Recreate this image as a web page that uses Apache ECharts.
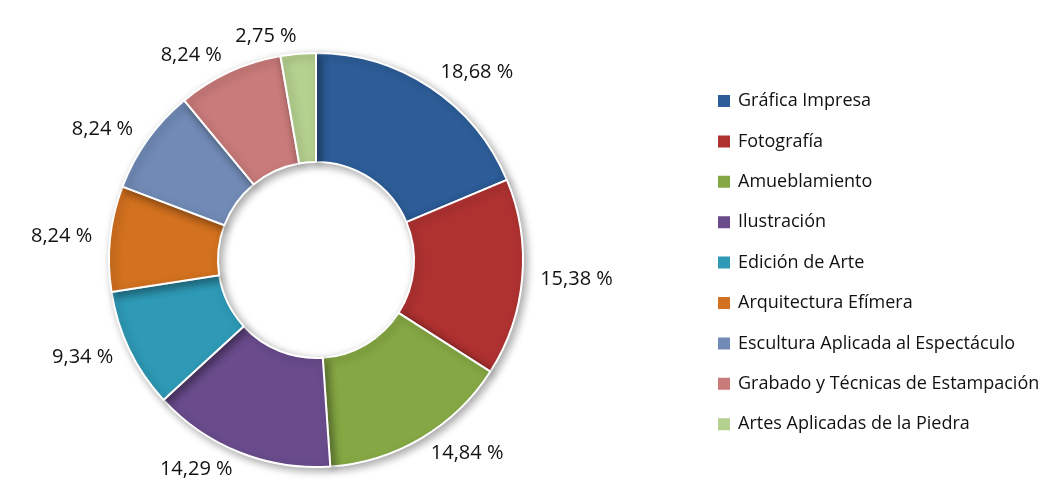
<!DOCTYPE html>
<html>
<head>
<meta charset="utf-8">
<script src="https://cdn.jsdelivr.net/npm/echarts@6/dist/echarts.min.js"></script>
<style>
  html, body { margin: 0; padding: 0; background: #fff; }
  #main { width: 1049px; height: 484px; }
</style>
</head>
<body>
<div id="main"></div>
<script type="text/javascript">
    // categorias y porcentajes
    var categorias = ['Gráfica Impresa', 'Fotografía', 'Amueblamiento', 'Ilustración', 'Edición de Arte',
        'Arquitectura Efímera', 'Escultura Aplicada al Espectáculo', 'Grabado y Técnicas de Estampación',
        'Artes Aplicadas de la Piedra'];
    var porcentajes = [18.68, 15.38, 14.84, 14.29, 9.34, 8.24, 8.24, 8.24, 2.75];
    var colores = ['#2D5D98', '#AF3231', '#86A844', '#6A4C8D', '#2E9AB6', '#D2711F', '#718BB6', '#C97B7A', '#B5D18F'];

    var myChart = echarts.init(document.getElementById('main'));

    var datos = categorias.map(function (c, i) {
        return { name: c, value: porcentajes[i], itemStyle: { color: colores[i] } };
    });

    var option = {
        animation: false,
        textStyle: { fontFamily: 'Open Sans' },
        legend: {
            orient: 'vertical',
            left: 711,
            top: 87,
            icon: 'rect',
            itemWidth: 14,
            itemHeight: 14,
            itemGap: 22.4,
            textStyle: { fontSize: 18, color: '#111', fontFamily: 'Open Sans', padding: [0, 0, 0, 2] },
            data: categorias
        },
        series: [
            {
                type: 'pie',
                center: [316, 260],
                radius: [98, 207],
                startAngle: 90,
                clockwise: true,
                avoidLabelOverlap: false,
                itemStyle: {
                    borderColor: '#fff',
                    borderWidth: 2,
                    shadowBlur: 8,
                    shadowOffsetX: 3,
                    shadowOffsetY: 3,
                    shadowColor: 'rgba(0,0,0,0.35)'
                },
                label: {
                    show: true,
                    position: 'outside',
                    fontSize: 20,
                    color: '#111',
                    fontFamily: 'Open Sans',
                    distanceToLabelLine: 0,
                    formatter: function (p) {
                        return p.value.toFixed(2).replace('.', ',') + ' %';
                    }
                },
                labelLine: { show: false, length: 18, length2: 0 },
                emphasis: { disabled: true },
                data: datos
            }
        ]
    };

    myChart.setOption(option);
</script>
</body>
</html>
